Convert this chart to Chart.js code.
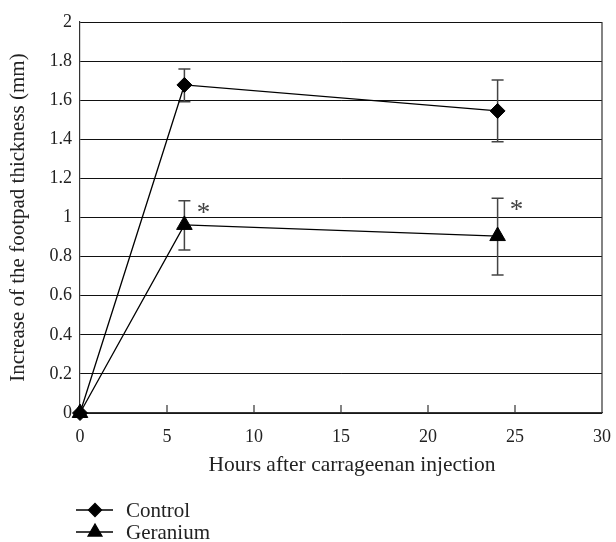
<!DOCTYPE html>
<html>
<head>
<meta charset="utf-8">
<script src="https://cdn.jsdelivr.net/npm/chart.js@4/dist/chart.umd.min.js"></script>
<style>
  html, body { margin: 0; padding: 0; background: #fff; }
  #wrap { width: 616px; height: 542px; }
</style>
</head>
<body>
<div id="wrap"><canvas id="paw" width="616" height="542"></canvas></div>
<script>
// hours after injection
const hours = [0, 6, 24];

// mean increase of footpad thickness (mm) and error bar ends
const controlMean = [0, 1.678, 1.545];
const controlLow = [0, 1.592, 1.388];
const controlHigh = [0, 1.760, 1.703];

const geraniumMean = [0, 0.962, 0.905];
const geraniumLow = [0, 0.834, 0.706];
const geraniumHigh = [0, 1.086, 1.098];
const geraniumSig = [false, true, true];

const xTicks = [0, 5, 10, 15, 20, 25, 30];
const yTicks = [0, 0.2, 0.4, 0.6, 0.8, 1, 1.2, 1.4, 1.6, 1.8, 2];

const xTitle = "Hours after carrageenan injection";
const yTitle = "Increase of the footpad thickness (mm)";

const serif = "'Liberation Serif', 'DejaVu Serif', serif";
const ink = "#222";

function toPoints(ys) {
  return hours.map((h, i) => ({ x: h, y: ys[i] }));
}

// error bars + asterisks, drawn under the markers
const errorBars = {
  id: "errorBars",
  beforeDatasetsDraw(chart) {
    const { ctx, scales } = chart;
    const sx = scales.x, sy = scales.y;
    ctx.save();
    ctx.strokeStyle = "#444";
    ctx.lineWidth = 1.5;
    chart.data.datasets.forEach((ds) => {
      ds.errLow.forEach((lo, i) => {
        const hi = ds.errHigh[i];
        if (lo === hi) return;
        const x = sx.getPixelForValue(hours[i]);
        const y1 = sy.getPixelForValue(lo);
        const y2 = sy.getPixelForValue(hi);
        ctx.beginPath();
        ctx.moveTo(x, y1); ctx.lineTo(x, y2);
        ctx.moveTo(x - 6, y1); ctx.lineTo(x + 6, y1);
        ctx.moveTo(x - 6, y2); ctx.lineTo(x + 6, y2);
        ctx.stroke();
      });
      if (ds.sig) {
        ctx.fillStyle = "#444";
        ctx.font = "27px " + serif;
        ctx.textAlign = "center";
        ctx.textBaseline = "middle";
        ds.sig.forEach((s, i) => {
          if (!s) return;
          const x = sx.getPixelForValue(hours[i]);
          const y = sy.getPixelForValue(ds.errHigh[i]);
          ctx.fillText("*", x + 19, y + 13);
        });
      }
    });
    ctx.restore();
  },
  afterDraw(chart) {
    // box border + inner x tick marks
    const { ctx, chartArea: a, scales } = chart;
    ctx.save();
    ctx.strokeStyle = "#333";
    ctx.lineWidth = 1.2;
    ctx.beginPath();
    ctx.moveTo(a.right, a.top); ctx.lineTo(a.right, a.bottom);
    xTicks.slice(1, -1).forEach((v) => {
      const x = scales.x.getPixelForValue(v);
      ctx.moveTo(x, a.bottom); ctx.lineTo(x, a.bottom - 8);
    });
    ctx.stroke();

    // x axis title (sits a little right of the plot centre)
    ctx.fillStyle = ink;
    ctx.font = "21.5px " + serif;
    ctx.textAlign = "center";
    ctx.textBaseline = "middle";
    ctx.fillText(xTitle, 352, 465);

    // legend below the plot
    const H = Chart.helpers;
    chart.data.datasets.forEach((ds, i) => {
      const y = 510 + i * 22;
      ctx.strokeStyle = "#000";
      ctx.lineWidth = 1.3;
      ctx.beginPath();
      ctx.moveTo(76, y); ctx.lineTo(113, y);
      ctx.stroke();
      ctx.fillStyle = "#000";
      H.drawPoint(ctx, {
        pointStyle: ds.pointStyle,
        radius: ds.legendRadius,
        rotation: 0,
        borderWidth: 1
      }, 95, y);
      ctx.fillStyle = ink;
      ctx.font = "21px " + serif;
      ctx.textAlign = "left";
      ctx.textBaseline = "middle";
      ctx.fillText(ds.label, 126, y + 1);
    });
    ctx.restore();
  }
};

new Chart(document.getElementById("paw"), {
  type: "line",
  data: {
    datasets: [
      {
        label: "Control",
        data: toPoints(controlMean),
        errLow: controlLow,
        errHigh: controlHigh,
        borderColor: "#000",
        backgroundColor: "#000",
        borderWidth: 1.3,
        pointStyle: "rectRot",
        pointRadius: 7.5,
        legendRadius: 6.5,
        pointBorderWidth: 1,
        tension: 0,
        clip: false
      },
      {
        label: "Geranium",
        data: toPoints(geraniumMean),
        errLow: geraniumLow,
        errHigh: geraniumHigh,
        sig: geraniumSig,
        borderColor: "#000",
        backgroundColor: "#000",
        borderWidth: 1.3,
        pointStyle: "triangle",
        pointRadius: 9,
        legendRadius: 8,
        pointBorderWidth: 1,
        tension: 0,
        clip: false
      }
    ]
  },
  options: {
    responsive: false,
    animation: false,
    layout: { padding: { top: 22, right: 14, left: 0, bottom: 0 } },
    plugins: {
      legend: { display: false },
      tooltip: { enabled: false }
    },
    scales: {
      x: {
        type: "linear",
        min: 0,
        max: 30,
        afterBuildTicks: (s) => { s.ticks = xTicks.map((v) => ({ value: v })); },
        afterFit: (s) => { s.height = 129; s.paddingLeft = 0; s.paddingRight = 0; },
        grid: { display: false, drawTicks: false, tickLength: 0 },
        border: { display: true, color: "#333", width: 1.2 },
        ticks: {
          padding: 13,
          color: ink,
          font: { family: serif, size: 18 },
          maxRotation: 0,
          callback: (v) => String(v)
        },
        title: { display: false }
      },
      y: {
        min: 0,
        max: 2,
        afterBuildTicks: (s) => { s.ticks = yTicks.map((v) => ({ value: v })); },
        afterFit: (s) => { s.width = 80; },
        grid: { color: "#111", lineWidth: 1, drawTicks: false, tickLength: 0 },
        border: { display: true, color: "#333", width: 1.2 },
        ticks: {
          padding: 8,
          color: ink,
          font: { family: serif, size: 18 },
          callback: (v) => String(+v.toFixed(1))
        },
        title: {
          display: true,
          text: yTitle,
          color: ink,
          font: { family: serif, size: 21 },
          padding: { top: 6, bottom: 0 }
        }
      }
    }
  },
  plugins: [errorBars]
});
</script>
</body>
</html>
